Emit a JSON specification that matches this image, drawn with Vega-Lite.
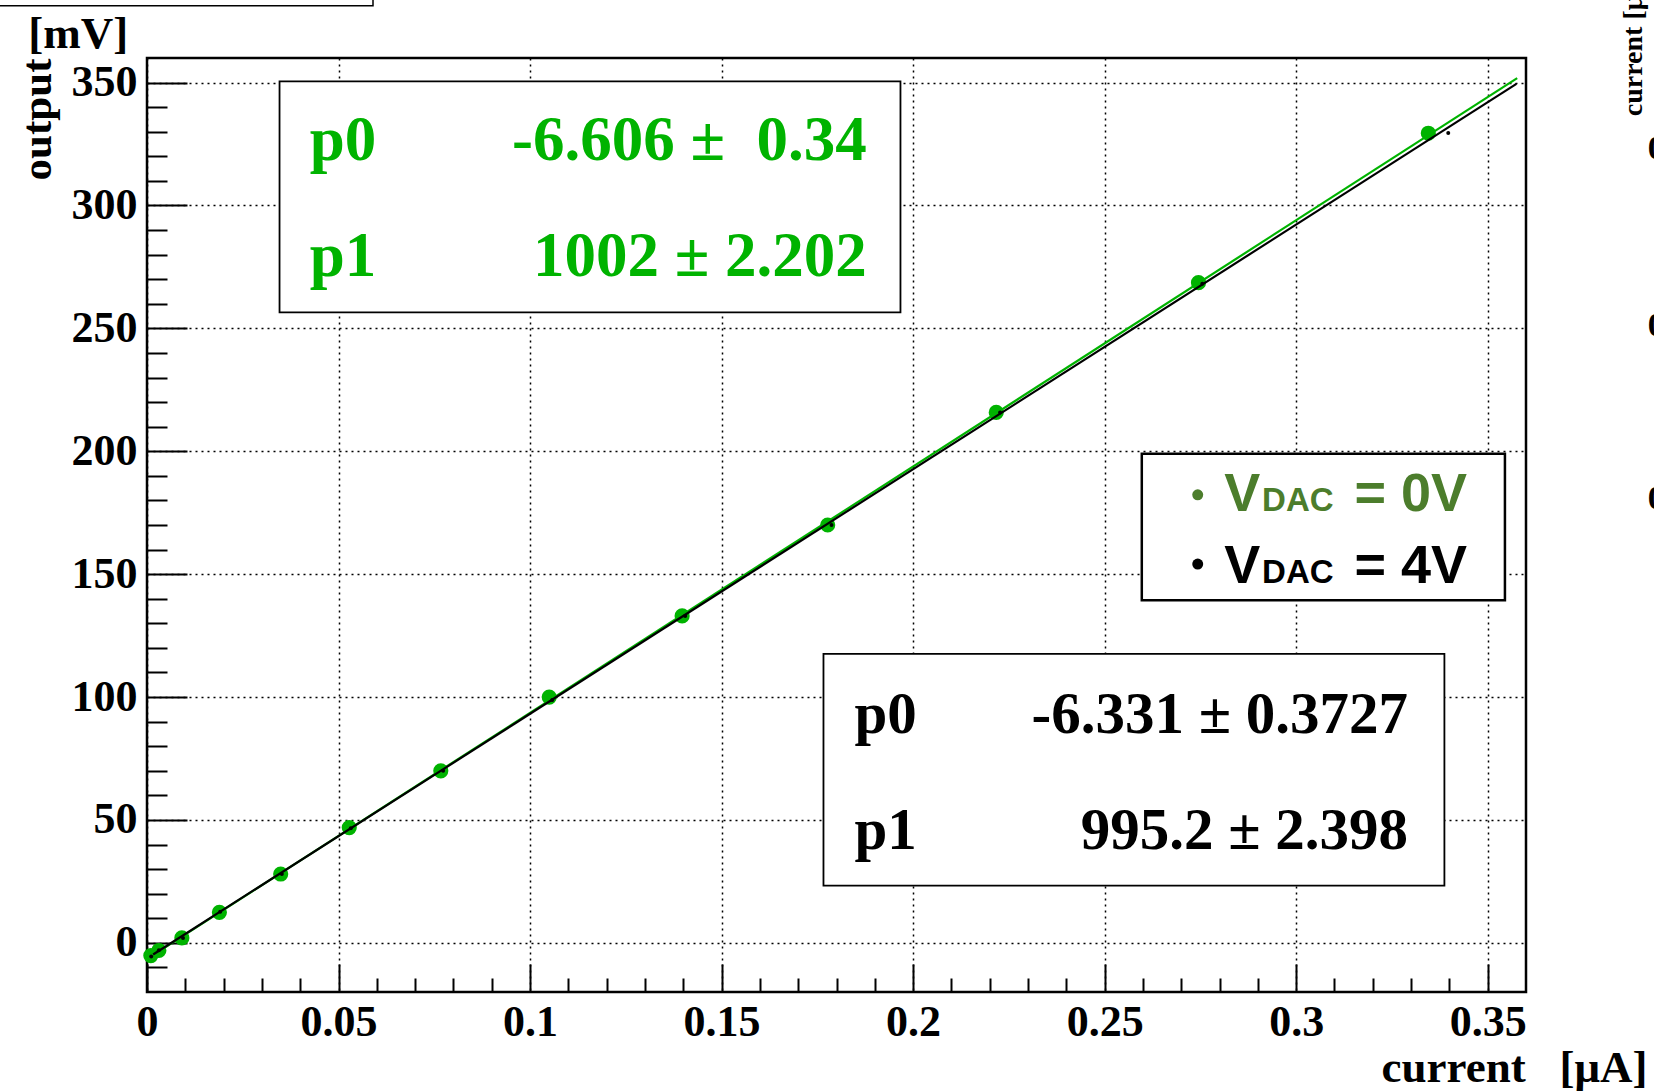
{
  "$schema": "https://vega.github.io/schema/vega-lite/v6.json",
  "width": 1379,
  "height": 934,
  "autosize": {"type": "none"},
  "padding": {"left": 147, "top": 58, "right": 128, "bottom": 99},
  "background": "white",
  "config": {
    "view": {"stroke": "black", "strokeWidth": 2.5},
    "font": "Liberation Serif",
    "axis": {"labelFlush": false, "labelOverlap": false}
  },
  "datasets": {
    "vdac0": [
      {"current": 0.0010, "output": -5.2},
      {"current": 0.0031, "output": -3.1},
      {"current": 0.0091, "output": 2.0},
      {"current": 0.0189, "output": 12.4},
      {"current": 0.0349, "output": 28.0},
      {"current": 0.0528, "output": 46.9},
      {"current": 0.0767, "output": 70.0},
      {"current": 0.1050, "output": 100.0},
      {"current": 0.1397, "output": 133.0},
      {"current": 0.1777, "output": 170.0},
      {"current": 0.2217, "output": 215.8},
      {"current": 0.2745, "output": 268.6},
      {"current": 0.3345, "output": 329.4}
    ],
    "vdac4": [
      {"current": 0.0011, "output": -5.6},
      {"current": 0.0031, "output": -3.0},
      {"current": 0.0094, "output": 2.0},
      {"current": 0.0191, "output": 12.6},
      {"current": 0.0352, "output": 28.0},
      {"current": 0.0532, "output": 46.6},
      {"current": 0.0773, "output": 70.0},
      {"current": 0.1058, "output": 98.8},
      {"current": 0.1405, "output": 133.0},
      {"current": 0.1787, "output": 170.0},
      {"current": 0.2227, "output": 215.8},
      {"current": 0.2755, "output": 268.2},
      {"current": 0.3397, "output": 329.5}
    ],
    "fits": [
      {"series": "VDAC = 0V", "current": 0.0016, "output": -5.003},
      {"series": "VDAC = 0V", "current": 0.3577, "output": 351.81},
      {"series": "VDAC = 4V", "current": 0.0016, "output": -4.739},
      {"series": "VDAC = 4V", "current": 0.3575, "output": 349.46}
    ],
    "one": [{}]
  },
  "layer": [
    {
      "data": {"name": "vdac0"},
      "mark": {"type": "point", "filled": true, "size": 230, "color": "#00b300", "opacity": 1, "strokeWidth": 0},
      "encoding": {
        "x": {
          "field": "current", "type": "quantitative",
          "scale": {"domain": [0, 0.36], "nice": false, "zero": false},
          "axis": {
            "orient": "bottom", "values": [0, 0.05, 0.1, 0.15, 0.2, 0.25, 0.3, 0.35],
            "format": "~g", "grid": true, "gridColor": "black", "gridDash": [2, 4], "gridWidth": 1.5, "gridOpacity": 1,
            "ticks": false, "domain": false, "labelPadding": 8,
            "labelFont": "Liberation Serif", "labelFontWeight": "bold", "labelFontSize": 44, "labelColor": "black",
            "title": null
          }
        },
        "y": {
          "field": "output", "type": "quantitative",
          "scale": {"domain": [-20, 360], "nice": false, "zero": false},
          "axis": {
            "orient": "left", "values": [0, 50, 100, 150, 200, 250, 300, 350],
            "format": "d", "grid": true, "gridColor": "black", "gridDash": [2, 4], "gridWidth": 1.5, "gridOpacity": 1,
            "ticks": false, "domain": false, "labelPadding": 10,
            "labelFont": "Liberation Serif", "labelFontWeight": "bold", "labelFontSize": 44, "labelColor": "black",
            "title": "output", "titleFont": "Liberation Serif", "titleFontWeight": "bold", "titleFontSize": 43,
            "titleColor": "black", "titleAnchor": "end", "titlePadding": 12
          }
        }
      }
    },
    {
      "data": {"name": "fits"},
      "mark": {"type": "line", "strokeWidth": 2.2},
      "encoding": {
        "x": {
          "field": "current", "type": "quantitative",
          "axis": {
            "orient": "bottom", "values": [0, 0.05, 0.1, 0.15, 0.2, 0.25, 0.3, 0.35],
            "labels": false, "domain": false, "grid": false, "ticks": true,
            "tickSize": 28, "offset": -28, "tickColor": "black", "tickWidth": 2, "title": null
          }
        },
        "y": {
          "field": "output", "type": "quantitative",
          "axis": {
            "orient": "left", "values": [0, 50, 100, 150, 200, 250, 300, 350],
            "labels": false, "domain": false, "grid": false, "ticks": true,
            "tickSize": 40, "offset": -40, "tickColor": "black", "tickWidth": 2, "title": null
          }
        },
        "color": {
          "field": "series", "type": "nominal",
          "scale": {"domain": ["VDAC = 0V", "VDAC = 4V"], "range": ["#00b300", "black"]},
          "legend": null
        }
      }
    },
    {
      "data": {"name": "vdac4"},
      "mark": {"type": "point", "filled": true, "size": 16, "color": "black", "opacity": 1, "strokeWidth": 0},
      "encoding": {
        "x": {
          "field": "current", "type": "quantitative",
          "axis": {
            "orient": "bottom",
            "values": [0.01, 0.02, 0.03, 0.04, 0.06, 0.07, 0.08, 0.09, 0.11, 0.12, 0.13, 0.14, 0.16, 0.17, 0.18, 0.19, 0.21, 0.22, 0.23, 0.24, 0.26, 0.27, 0.28, 0.29, 0.31, 0.32, 0.33, 0.34],
            "labels": false, "domain": false, "grid": false, "ticks": true,
            "tickSize": 14, "offset": -14, "tickColor": "black", "tickWidth": 2, "title": null
          }
        },
        "y": {
          "field": "output", "type": "quantitative",
          "axis": {
            "orient": "left",
            "values": [-10, 10, 20, 30, 40, 60, 70, 80, 90, 110, 120, 130, 140, 160, 170, 180, 190, 210, 220, 230, 240, 260, 270, 280, 290, 310, 320, 330, 340],
            "labels": false, "domain": false, "grid": false, "ticks": true,
            "tickSize": 20, "offset": -20, "tickColor": "black", "tickWidth": 2, "title": null
          }
        }
      }
    },
    {
      "data": {"name": "one"},
      "mark": {"type": "rect", "fill": "white", "stroke": "black", "strokeWidth": 1.8},
      "encoding": {
        "x": {"datum": 0.0346, "type": "quantitative", "axis": null},
        "x2": {"datum": 0.1967},
        "y": {"datum": 256.5, "type": "quantitative", "axis": null},
        "y2": {"datum": 350.5}
      }
    },
    {
      "data": {"name": "one"},
      "mark": {"type": "rect", "fill": "white", "stroke": "black", "strokeWidth": 1.8},
      "encoding": {
        "x": {"datum": 0.1766, "type": "quantitative", "axis": null},
        "x2": {"datum": 0.3387},
        "y": {"datum": 23.3, "type": "quantitative", "axis": null},
        "y2": {"datum": 117.6}
      }
    },
    {
      "data": {"name": "one"},
      "mark": {"type": "rect", "fill": "white", "stroke": "black", "strokeWidth": 2.5},
      "encoding": {
        "x": {"datum": 0.2597, "type": "quantitative", "axis": null},
        "x2": {"datum": 0.3545},
        "y": {"datum": 139.4, "type": "quantitative", "axis": null},
        "y2": {"datum": 199.0}
      }
    },
    {
      "data": {"name": "one"},
      "mark": {"type": "rect", "fill": "white", "stroke": "black", "strokeWidth": 1.5, "clip": false},
      "encoding": {
        "x": {"datum": -0.06, "type": "quantitative", "axis": null},
        "x2": {"datum": 0.059},
        "y": {"datum": 381.3, "type": "quantitative", "axis": null},
        "y2": {"datum": 420}
      }
    },
    {
      "data": {"name": "one"},
      "mark": {"type": "text", "font": "Liberation Serif", "fontWeight": "bold", "fontSize": 63, "color": "#00b300", "align": "left", "baseline": "alphabetic"},
      "encoding": {
        "x": {"datum": 0.0425, "type": "quantitative", "axis": null},
        "y": {"datum": 318.7, "type": "quantitative", "axis": null},
        "text": {"value": "p0"}
      }
    },
    {
      "data": {"name": "one"},
      "mark": {"type": "text", "font": "Liberation Serif", "fontWeight": "bold", "fontSize": 63, "color": "#00b300", "align": "left", "baseline": "alphabetic"},
      "encoding": {
        "x": {"datum": 0.0425, "type": "quantitative", "axis": null},
        "y": {"datum": 271.5, "type": "quantitative", "axis": null},
        "text": {"value": "p1"}
      }
    },
    {
      "data": {"name": "one"},
      "mark": {"type": "text", "font": "Liberation Serif", "fontWeight": "bold", "fontSize": 63, "color": "#00b300", "align": "right", "baseline": "alphabetic"},
      "encoding": {
        "x": {"datum": 0.1879, "type": "quantitative", "axis": null},
        "y": {"datum": 318.7, "type": "quantitative", "axis": null},
        "text": {"value": "-6.606 ±\u00a0\u00a00.34"}
      }
    },
    {
      "data": {"name": "one"},
      "mark": {"type": "text", "font": "Liberation Serif", "fontWeight": "bold", "fontSize": 63, "color": "#00b300", "align": "right", "baseline": "alphabetic"},
      "encoding": {
        "x": {"datum": 0.1879, "type": "quantitative", "axis": null},
        "y": {"datum": 271.5, "type": "quantitative", "axis": null},
        "text": {"value": "1002 ± 2.202"}
      }
    },
    {
      "data": {"name": "one"},
      "mark": {"type": "text", "font": "Liberation Serif", "fontWeight": "bold", "fontSize": 59, "color": "black", "align": "left", "baseline": "alphabetic"},
      "encoding": {
        "x": {"datum": 0.1847, "type": "quantitative", "axis": null},
        "y": {"datum": 85.4, "type": "quantitative", "axis": null},
        "text": {"value": "p0"}
      }
    },
    {
      "data": {"name": "one"},
      "mark": {"type": "text", "font": "Liberation Serif", "fontWeight": "bold", "fontSize": 59, "color": "black", "align": "left", "baseline": "alphabetic"},
      "encoding": {
        "x": {"datum": 0.1847, "type": "quantitative", "axis": null},
        "y": {"datum": 38.2, "type": "quantitative", "axis": null},
        "text": {"value": "p1"}
      }
    },
    {
      "data": {"name": "one"},
      "mark": {"type": "text", "font": "Liberation Serif", "fontWeight": "bold", "fontSize": 59, "color": "black", "align": "right", "baseline": "alphabetic"},
      "encoding": {
        "x": {"datum": 0.3292, "type": "quantitative", "axis": null},
        "y": {"datum": 85.4, "type": "quantitative", "axis": null},
        "text": {"value": "-6.331 ± 0.3727"}
      }
    },
    {
      "data": {"name": "one"},
      "mark": {"type": "text", "font": "Liberation Serif", "fontWeight": "bold", "fontSize": 59, "color": "black", "align": "right", "baseline": "alphabetic"},
      "encoding": {
        "x": {"datum": 0.3292, "type": "quantitative", "axis": null},
        "y": {"datum": 38.2, "type": "quantitative", "axis": null},
        "text": {"value": "995.2 ± 2.398"}
      }
    },
    {
      "data": {"name": "one"},
      "mark": {"type": "point", "filled": true, "size": 120, "color": "#4c7d2c", "opacity": 1, "strokeWidth": 0},
      "encoding": {
        "x": {"datum": 0.2743, "type": "quantitative", "axis": null},
        "y": {"datum": 182.3, "type": "quantitative", "axis": null}
      }
    },
    {
      "data": {"name": "one"},
      "mark": {"type": "point", "filled": true, "size": 120, "color": "black", "opacity": 1, "strokeWidth": 0},
      "encoding": {
        "x": {"datum": 0.2743, "type": "quantitative", "axis": null},
        "y": {"datum": 154.1, "type": "quantitative", "axis": null}
      }
    },
    {
      "data": {"name": "one"},
      "mark": {"type": "text", "font": "Liberation Sans", "fontWeight": "bold", "fontSize": 54, "color": "#4c7d2c", "align": "left", "baseline": "alphabetic"},
      "encoding": {
        "x": {"datum": 0.2812, "type": "quantitative", "axis": null},
        "y": {"datum": 175.7, "type": "quantitative", "axis": null},
        "text": {"value": "V"}
      }
    },
    {
      "data": {"name": "one"},
      "mark": {"type": "text", "font": "Liberation Sans", "fontWeight": "bold", "fontSize": 33, "color": "#4c7d2c", "align": "left", "baseline": "alphabetic"},
      "encoding": {
        "x": {"datum": 0.2911, "type": "quantitative", "axis": null},
        "y": {"datum": 175.7, "type": "quantitative", "axis": null},
        "text": {"value": "DAC"}
      }
    },
    {
      "data": {"name": "one"},
      "mark": {"type": "text", "font": "Liberation Sans", "fontWeight": "bold", "fontSize": 54, "color": "#4c7d2c", "align": "left", "baseline": "alphabetic"},
      "encoding": {
        "x": {"datum": 0.3152, "type": "quantitative", "axis": null},
        "y": {"datum": 175.7, "type": "quantitative", "axis": null},
        "text": {"value": "= 0V"}
      }
    },
    {
      "data": {"name": "one"},
      "mark": {"type": "text", "font": "Liberation Sans", "fontWeight": "bold", "fontSize": 54, "color": "black", "align": "left", "baseline": "alphabetic"},
      "encoding": {
        "x": {"datum": 0.2812, "type": "quantitative", "axis": null},
        "y": {"datum": 146.6, "type": "quantitative", "axis": null},
        "text": {"value": "V"}
      }
    },
    {
      "data": {"name": "one"},
      "mark": {"type": "text", "font": "Liberation Sans", "fontWeight": "bold", "fontSize": 33, "color": "black", "align": "left", "baseline": "alphabetic"},
      "encoding": {
        "x": {"datum": 0.2911, "type": "quantitative", "axis": null},
        "y": {"datum": 146.6, "type": "quantitative", "axis": null},
        "text": {"value": "DAC"}
      }
    },
    {
      "data": {"name": "one"},
      "mark": {"type": "text", "font": "Liberation Sans", "fontWeight": "bold", "fontSize": 54, "color": "black", "align": "left", "baseline": "alphabetic"},
      "encoding": {
        "x": {"datum": 0.3152, "type": "quantitative", "axis": null},
        "y": {"datum": 146.6, "type": "quantitative", "axis": null},
        "text": {"value": "= 4V"}
      }
    },
    {
      "data": {"name": "one"},
      "mark": {"type": "text", "font": "Liberation Serif", "fontWeight": "bold", "fontSize": 45, "color": "black", "align": "left", "baseline": "alphabetic"},
      "encoding": {
        "x": {"datum": -0.031, "type": "quantitative", "axis": null},
        "y": {"datum": 364.1, "type": "quantitative", "axis": null},
        "text": {"value": "[mV]"}
      }
    },
    {
      "data": {"name": "one"},
      "mark": {"type": "text", "font": "Liberation Serif", "fontWeight": "bold", "fontSize": 45, "color": "black", "align": "right", "baseline": "alphabetic"},
      "encoding": {
        "x": {"datum": 0.3917, "type": "quantitative", "axis": null},
        "y": {"datum": -56.7, "type": "quantitative", "axis": null},
        "text": {"value": "current\u00a0\u00a0\u00a0[μA]"}
      }
    },
    {
      "data": {"name": "one"},
      "mark": {"type": "text", "font": "Liberation Serif", "fontWeight": "bold", "fontSize": 28, "color": "black", "align": "left", "baseline": "alphabetic", "angle": 270},
      "encoding": {
        "x": {"datum": 0.3903, "type": "quantitative", "axis": null},
        "y": {"datum": 336.3, "type": "quantitative", "axis": null},
        "text": {"value": "current [μA]"}
      }
    },
    {
      "data": {"values": [{"tick": "0", "pos": 322.9}, {"tick": "0", "pos": 250.9}, {"tick": "0", "pos": 180.6}]},
      "mark": {"type": "text", "font": "Liberation Serif", "fontWeight": "bold", "fontSize": 34, "color": "black", "align": "left", "baseline": "middle"},
      "encoding": {
        "x": {"datum": 0.3918, "type": "quantitative", "axis": null},
        "y": {"field": "pos", "type": "quantitative", "axis": null},
        "text": {"field": "tick"}
      }
    }
  ],
  "resolve": {"axis": {"x": "independent", "y": "independent"}}
}
